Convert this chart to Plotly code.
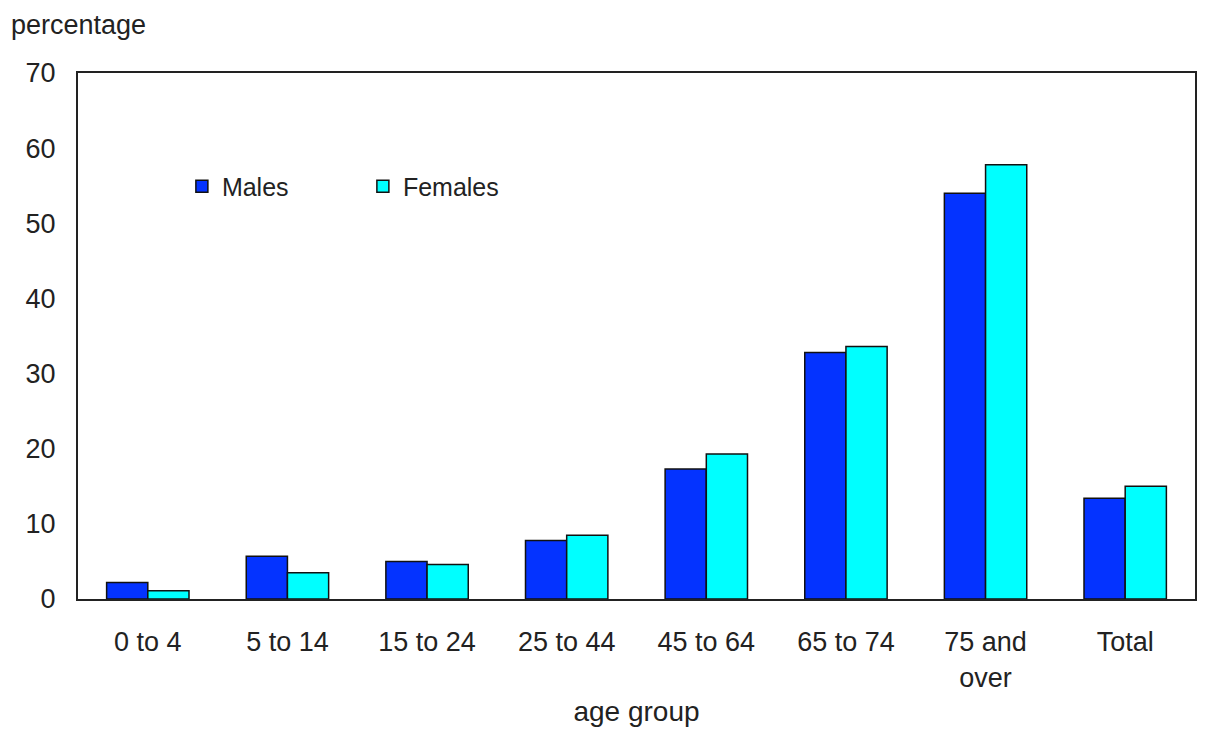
import plotly.graph_objects as go

categories = ["0 to 4", "5 to 14", "15 to 24", "25 to 44", "45 to 64", "65 to 74", "75 and<br>over", "Total"]
males = [2.2, 5.7, 5.0, 7.8, 17.3, 32.8, 54.0, 13.4]
females = [1.1, 3.5, 4.6, 8.5, 19.3, 33.6, 57.8, 15.0]
y_ticks = [0, 10, 20, 30, 40, 50, 60, 70]

FONT = "Liberation Sans, Arial, sans-serif"

fig = go.Figure()
fig.add_trace(go.Bar(name="Males", x=categories, y=males,
                     marker=dict(color="#0433FF", line=dict(color="#111111", width=1.5))))
fig.add_trace(go.Bar(name="Females", x=categories, y=females,
                     marker=dict(color="#00FFFF", line=dict(color="#111111", width=1.5))))

fig.update_layout(
    width=1199, height=724,
    margin=dict(l=70, r=10, t=65, b=132),
    paper_bgcolor="white", plot_bgcolor="white",
    font=dict(family=FONT, size=27, color="#222222"),
    barmode="group", bargap=0.41, bargroupgap=0,
    legend=dict(orientation="h", x=0.093, xanchor="left", y=0.784, yanchor="middle",
                bgcolor="rgba(0,0,0,0)", font=dict(size=25, color="#222222"),
                entrywidth=136, entrywidthmode="pixels", traceorder="normal"),
    xaxis=dict(showline=True, linecolor="#222222", linewidth=2, mirror=True,
               ticks="", ticklabelstandoff=18, showgrid=False,
               title=dict(text="age group", standoff=10, font=dict(size=28))),
    yaxis=dict(range=[0, 70], tickvals=y_ticks, showline=True, linecolor="#222222",
               linewidth=2, mirror=True, ticks="", ticklabelstandoff=15, showgrid=False,
               zeroline=False),
    annotations=[dict(text="percentage", x=0, xref="paper", xanchor="left", xshift=-69,
                      y=1, yref="paper", yanchor="middle", yshift=48, showarrow=False,
                      font=dict(size=27, color="#222222"))],
)

fig.write_html("out.html")
